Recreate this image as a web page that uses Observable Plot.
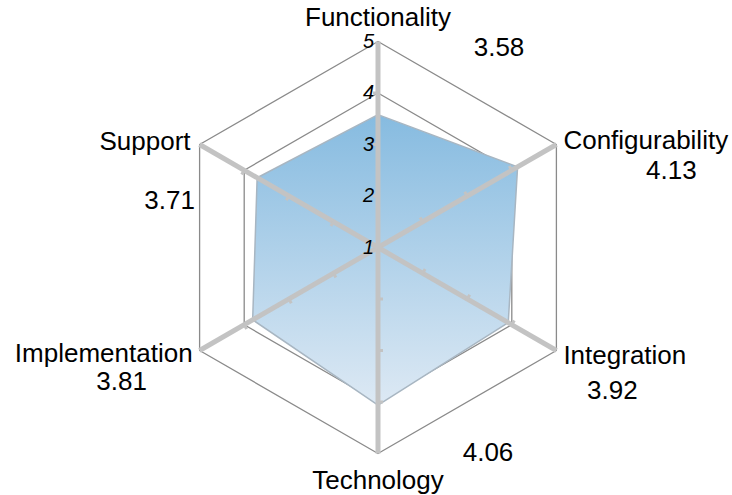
<!DOCTYPE html>
<html><head><meta charset="utf-8">
<script src="https://cdn.jsdelivr.net/npm/d3@7"></script>
<script src="https://cdn.jsdelivr.net/npm/@observablehq/plot@0.6"></script>
<style>body{margin:0;background:#fff;} svg{display:block;}</style>
</head><body><div id="chart"></div>
<script>
// ---- data ----
const categories = ["Functionality", "Configurability", "Integration", "Technology", "Implementation", "Support"];
const scores = [3.58, 4.13, 3.92, 4.06, 3.81, 3.71];
const scoreLabels = ["3.58", "4.13", "3.92", "4.06", "3.81", "3.71"];
const levels = [1, 2, 3, 4, 5];
const levelLabels = ["1", "2", "3", "4", "5"];

// ---- layout ----
const W = 732, H = 495;
const unit = 51.5;            // px per rating level
const cx = 377.5, cy = 247;   // pixel position of the centre
const minLevel = 1, maxLevel = 5;
// category-name placement relative to outer vertex: [anchor, dx, dy(baseline)]
const nameLayout = [["middle", 0, -16], ["start", 7, 4], ["start", 7, 13], ["middle", 0, 35], ["end", -7, 11], ["end", -9, 5]];
// score-label placement relative to outer vertex (centre, baseline)
const valueLayout = [[121, 14], [115, 34], [56, 48], [110, 7], [-78, 39], [-30, 64]];

const angle = i => (90 - 60 * i) * Math.PI / 180;
const pt = (i, v) => ({x: (v - minLevel) * Math.cos(angle(i)), y: (v - minLevel) * Math.sin(angle(i))});

const grid = [];
for (const L of levels.slice(1)) categories.forEach((c, i) => grid.push({...pt(i, L), level: L}));
const spokes = categories.map((c, i) => {const o = pt(i, minLevel), e = pt(i, maxLevel); return {x1: o.x, y1: o.y, x2: e.x, y2: e.y};});
const ticks = [];
categories.forEach((c, i) => {
  for (const L of levels.slice(1, 4)) {
    const p = pt(i, L), a = angle(i) + Math.PI / 2, off = 5 / unit;
    ticks.push({x1: p.x, y1: p.y, x2: p.x + off * Math.cos(a), y2: p.y + off * Math.sin(a)});
  }
});
const poly = categories.map((c, i) => ({...pt(i, scores[i]), name: c}));
const levelText = levels.map((L, k) => ({...pt(0, L), label: levelLabels[k]}));

const font = "'Liberation Sans', Arial, Helvetica, sans-serif";
const labelMarks = [];
categories.forEach((c, i) => {
  const v = pt(i, maxLevel);
  const [anchor, dx, dy] = nameLayout[i];
  labelMarks.push(Plot.text([{...v, t: c}], {x: "x", y: "y", text: "t", textAnchor: anchor, lineAnchor: "bottom", dx, dy, fontSize: 26, fill: "#000"}));
  const [vdx, vdy] = valueLayout[i];
  labelMarks.push(Plot.text([{...v, t: scoreLabels[i]}], {x: "x", y: "y", text: "t", textAnchor: "middle", lineAnchor: "bottom", dx: vdx, dy: vdy, fontSize: 26, fill: "#000"}));
});

const chart = Plot.plot({
  width: W, height: H, margin: 0,
  x: {domain: [-cx / unit, (W - cx) / unit], axis: null},
  y: {domain: [-(H - cy) / unit, cy / unit], axis: null},
  style: {fontFamily: font, background: "#fff", color: "#000"},
  marks: [
    Plot.line(grid, {x: "x", y: "y", z: "level", curve: "linear-closed", stroke: "#8a8a8a", strokeWidth: 1.3}),
    Plot.line(poly, {x: "x", y: "y", curve: "linear-closed", fill: "url(#radarFill)", stroke: "#a8b6c2", strokeWidth: 1.5}),
    Plot.link(spokes, {x1: "x1", y1: "y1", x2: "x2", y2: "y2", stroke: "#c3c3c3", strokeWidth: 5, strokeLinecap: "butt"}),
    Plot.link(ticks, {x1: "x1", y1: "y1", x2: "x2", y2: "y2", stroke: "#c3c3c3", strokeWidth: 3}),
    Plot.text(levelText, {x: "x", y: "y", text: "label", textAnchor: "end", lineAnchor: "middle", dx: -4, fontSize: 20, fontStyle: "italic", fill: "#000"}),
    ...labelMarks
  ]
});

const svg = chart.tagName.toLowerCase() === "svg" ? chart : chart.querySelector("svg");
const defs = d3.select(svg).insert("defs", ":first-child");
const g = defs.append("linearGradient").attr("id", "radarFill").attr("x1", 0).attr("y1", 0).attr("x2", 0).attr("y2", 1);
g.append("stop").attr("offset", 0).attr("stop-color", "#86bbe0");
g.append("stop").attr("offset", 1).attr("stop-color", "#dde9f4");
document.getElementById("chart").appendChild(chart);
</script>
</body></html>
